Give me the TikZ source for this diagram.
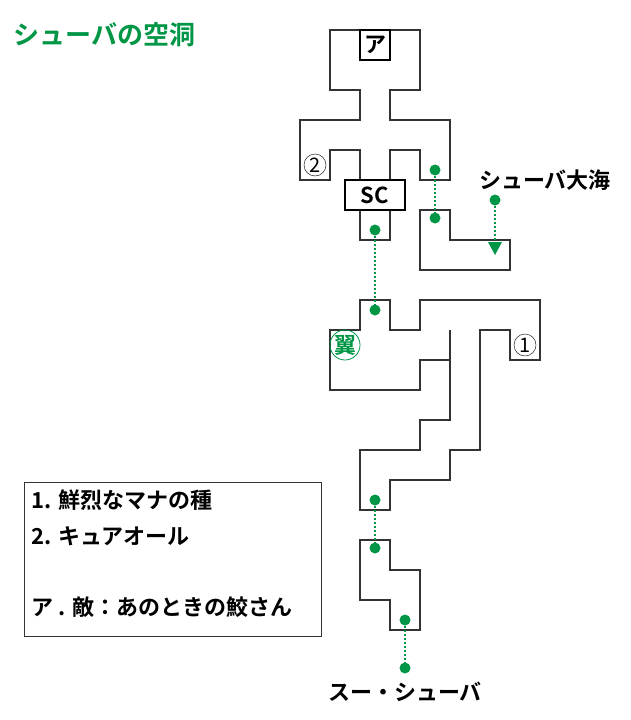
\documentclass[tikz,border=0pt]{standalone}
\usepackage{fontspec}
\setmainfont{Noto Sans CJK JP}[BoldFont={Noto Sans CJK JP Bold}]
\usetikzlibrary{positioning}
\definecolor{mapgreen}{RGB}{0,150,70}
\definecolor{wallgray}{RGB}{51,51,51}
\begin{document}
\begin{tikzpicture}[x=1pt,y=-1pt,font=\bfseries\fontsize{22pt}{24pt}\selectfont]
\tikzstyle{wall}=[draw=wallgray,line width=1.5pt]
\tikzstyle{markbox}=[draw=black,line width=2.5pt,fill=white,inner sep=0pt]
\tikzstyle{spot}=[circle,fill=mapgreen,inner sep=0pt,minimum size=11pt]
\tikzstyle{link}=[draw=mapgreen,dash pattern=on 2pt off 2pt,line width=1.3pt]
\tikzstyle{num}=[circle,draw=black,thin,inner sep=0pt,minimum size=22pt,font=\fontsize{20pt}{20pt}\selectfont]
\useasboundingbox (0,0) rectangle (630,720);
% title
\node[text=mapgreen,anchor=west,font=\bfseries\fontsize{26pt}{28pt}\selectfont] (title) at (10,35) {シューバの空洞};
% upper area
\draw[wall] (390,180) -- (390,150) -- (420,150) -- (420,180) -- (450,180) -- (450,120)
  -- (390,120) -- (390,90) -- (420,90) -- (420,30) -- (330,30) -- (330,90) -- (360,90)
  -- (360,120) -- (300,120) -- (300,180) -- (330,180) -- (330,150) -- (360,150) -- (360,180);
\draw[wall] (360,210) -- (360,240) -- (390,240) -- (390,210);
\node[markbox,minimum width=30pt,minimum height=30pt] (a) at (375,45) {ア};
\node[markbox,minimum width=60pt,minimum height=30pt] (sc) at (375,195) {SC};
\node[num] (two) at (315,165) {2};
\draw[wall] (420,210) -- (450,210) -- (450,240) -- (510,240) -- (510,270) -- (420,270) -- cycle;
% middle area
\draw[wall] (450,330) -- (450,420) -- (420,420) -- (420,450) -- (360,450) -- (360,510)
  -- (390,510) -- (390,480) -- (450,480) -- (450,450) -- (480,450) -- (480,330) -- (510,330)
  -- (510,360) -- (540,360) -- (540,300) -- (420,300) -- (420,330) -- (390,330) -- (390,300)
  -- (360,300) -- (360,330) -- (330,330) -- (330,390) -- (420,390) -- (420,360) -- (450,360);
\node[num] (one) at (525,345) {1};
\node[circle,draw=mapgreen,line width=0.8pt,text=mapgreen,inner sep=0pt,minimum size=30pt,font=\bfseries\fontsize{22pt}{22pt}\selectfont] (wing) at (345,345) {翼};
% lower area
\draw[wall] (360,540) -- (390,540) -- (390,570) -- (420,570) -- (420,630) -- (390,630) -- (390,600) -- (360,600) -- cycle;
% links
\node[spot] (p1) at (435,170) {};
\node[spot] (p2) at (435,218) {};
\node[spot] (p3) at (375,230) {};
\node[spot] (p4) at (375,310) {};
\node[spot] (p5) at (375,500) {};
\node[spot] (p6) at (375,548) {};
\node[spot] (p7) at (405,620) {};
\node[spot] (p8) at (405,668) {};
\node[spot] (p9) at (495,200) {};
\coordinate (sea) at (495,246);
\draw[link] (p1) -- (p2);
\draw[link] (p3) -- (p4);
\draw[link] (p5) -- (p6);
\draw[link] (p7) -- (p8);
\draw[link] (p9) -- (sea);
\fill[mapgreen] (488,242) -- (502,242) -- (495,255) -- cycle;
\node (sealabel) at (545,180) {シューバ大海};
\node (exit) at (405,692) {スー・シューバ};
% legend
\node[draw=wallgray,line width=1pt,minimum width=297pt,minimum height=154pt] (legend) at (172.5,559) {};
\node[anchor=west] (l1) at (28,500) {1. 鮮烈なマナの種};
\node[anchor=west] (l2) at (28,536) {2. キュアオール};
\node[anchor=west] (l3) at (28,607) {ア . 敵：あのときの鮫さん};
\end{tikzpicture}
\end{document}
